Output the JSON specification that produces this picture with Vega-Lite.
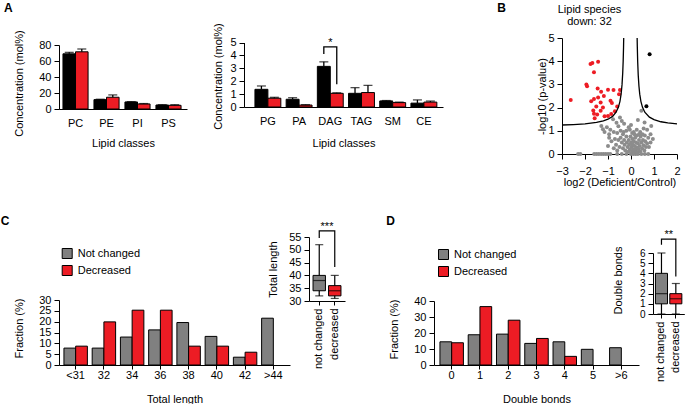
{
  "$schema": "https://vega.github.io/schema/vega-lite/v6.json",
  "padding": {"left": 0, "top": 1, "right": 0, "bottom": 0},
  "bounds": "flush",
  "spacing": 199,
  "resolve": {"scale": {"x": "independent", "y": "independent", "color": "independent", "xOffset": "independent"}, "legend": {"color": "independent"}},
  "config": {
    "font": "Liberation Sans",
    "view": {"stroke": null},
    "axis": {"domainColor": "#000000", "tickColor": "#000000", "labelColor": "#000000", "titleColor": "#000000", "labelFontSize": 11, "titleFontSize": 11, "titleFontWeight": "normal", "grid": false, "tickSize": 5, "labelPadding": 3, "labelOverlap": false, "labelFlush": false, "domainWidth": 1, "tickWidth": 1},
    "title": {"fontSize": 12, "fontWeight": "bold", "anchor": "start", "color": "#000000", "frame": "group"},
    "legend": {"labelFontSize": 11, "labelColor": "#000000"}
  },
  "datasets": {
    "a1": [
      {"cls": "PC", "grp": "Control", "val": 69, "err": 70.8},
      {"cls": "PC", "grp": "Deficient", "val": 71.5, "err": 75},
      {"cls": "PE", "grp": "Control", "val": 11.7, "err": 12.2},
      {"cls": "PE", "grp": "Deficient", "val": 14.7, "err": 17.6},
      {"cls": "PI", "grp": "Control", "val": 8.8, "err": 9.2},
      {"cls": "PI", "grp": "Deficient", "val": 6.3, "err": 6.8},
      {"cls": "PS", "grp": "Control", "val": 5, "err": 5.4},
      {"cls": "PS", "grp": "Deficient", "val": 4.6, "err": 5.4}
    ],
    "a2": [
      {"cls": "PG", "grp": "Control", "val": 1.37, "err": 1.63},
      {"cls": "PG", "grp": "Deficient", "val": 0.68, "err": 0.75},
      {"cls": "PA", "grp": "Control", "val": 0.6, "err": 0.72},
      {"cls": "PA", "grp": "Deficient", "val": 0.15, "err": 0.18},
      {"cls": "DAG", "grp": "Control", "val": 3.15, "err": 3.5},
      {"cls": "DAG", "grp": "Deficient", "val": 1.06, "err": 1.1},
      {"cls": "TAG", "grp": "Control", "val": 1.06, "err": 1.5},
      {"cls": "TAG", "grp": "Deficient", "val": 1.12, "err": 1.68},
      {"cls": "SM", "grp": "Control", "val": 0.47, "err": 0.5},
      {"cls": "SM", "grp": "Deficient", "val": 0.34, "err": 0.38},
      {"cls": "CE", "grp": "Control", "val": 0.3, "err": 0.55},
      {"cls": "CE", "grp": "Deficient", "val": 0.38, "err": 0.46}
    ],
    "a2br": [
      {"cls": "DAG", "grp": "Control", "y": 4.1, "o": 1},
      {"cls": "DAG", "grp": "Control", "y": 4.66, "o": 2},
      {"cls": "DAG", "grp": "Deficient", "y": 4.66, "o": 3},
      {"cls": "DAG", "grp": "Deficient", "y": 1.76, "o": 4}
    ],
    "a2star": [{"cls": "DAG", "y": 4.66, "t": "*"}],
    "curve": [
      {"side": "L", "x": -3, "y": 1.25}, {"side": "L", "x": -2.5, "y": 1.27}, {"side": "L", "x": -2, "y": 1.3},
      {"side": "L", "x": -1.5, "y": 1.36}, {"side": "L", "x": -1.2, "y": 1.43}, {"side": "L", "x": -1, "y": 1.5},
      {"side": "L", "x": -0.8, "y": 1.62}, {"side": "L", "x": -0.65, "y": 1.8}, {"side": "L", "x": -0.55, "y": 2.01},
      {"side": "L", "x": -0.48, "y": 2.27}, {"side": "L", "x": -0.43, "y": 2.58}, {"side": "L", "x": -0.39, "y": 2.99},
      {"side": "L", "x": -0.36, "y": 3.49}, {"side": "L", "x": -0.34, "y": 4.01}, {"side": "L", "x": -0.325, "y": 4.58},
      {"side": "L", "x": -0.317, "y": 5},
      {"side": "R", "x": 0.267, "y": 5}, {"side": "R", "x": 0.275, "y": 4.6}, {"side": "R", "x": 0.29, "y": 4.0},
      {"side": "R", "x": 0.315, "y": 3.39}, {"side": "R", "x": 0.345, "y": 2.93}, {"side": "R", "x": 0.38, "y": 2.58},
      {"side": "R", "x": 0.43, "y": 2.27}, {"side": "R", "x": 0.5, "y": 2.01}, {"side": "R", "x": 0.6, "y": 1.8},
      {"side": "R", "x": 0.8, "y": 1.59}, {"side": "R", "x": 1.0, "y": 1.48}, {"side": "R", "x": 1.3, "y": 1.39},
      {"side": "R", "x": 1.6, "y": 1.34}, {"side": "R", "x": 2.0, "y": 1.3}
    ],
    "volc": [
      {"x": -2.3, "y": 0, "c": "ns"}, {"x": -2.2, "y": 0, "c": "ns"}, {"x": -1.6, "y": 0, "c": "ns"}, {"x": -1.5, "y": 0, "c": "ns"},
      {"x": -1.4, "y": 0, "c": "ns"}, {"x": -1.3, "y": 0, "c": "ns"}, {"x": -1.2, "y": 0, "c": "ns"}, {"x": -1.1, "y": 0, "c": "ns"},
      {"x": -1.0, "y": 0, "c": "ns"}, {"x": -0.9, "y": 0, "c": "ns"}, {"x": -0.6, "y": 0, "c": "ns"}, {"x": -0.4, "y": 0, "c": "ns"},
      {"x": -0.2, "y": 0, "c": "ns"}, {"x": 0, "y": 0, "c": "ns"}, {"x": 0.1, "y": 0, "c": "ns"}, {"x": 0.2, "y": 0, "c": "ns"},
      {"x": 0.3, "y": 0, "c": "ns"}, {"x": 0.45, "y": 0, "c": "ns"}, {"x": 0.6, "y": 0, "c": "ns"}, {"x": 0.75, "y": 0, "c": "ns"},
      {"x": -0.78, "y": 1.5, "c": "ns"}, {"x": -0.48, "y": 1.57, "c": "ns"}, {"x": -0.63, "y": 1.35, "c": "ns"}, {"x": -0.4, "y": 1.42, "c": "ns"},
      {"x": -0.3, "y": 1.3, "c": "ns"}, {"x": -0.55, "y": 1.2, "c": "ns"}, {"x": -1.29, "y": 1.21, "c": "ns"}, {"x": -1.22, "y": 1.07, "c": "ns"},
      {"x": -1.05, "y": 1.15, "c": "ns"}, {"x": -0.9, "y": 1.05, "c": "ns"}, {"x": -1.15, "y": 0.95, "c": "ns"}, {"x": -0.95, "y": 0.85, "c": "ns"},
      {"x": -0.75, "y": 0.95, "c": "ns"}, {"x": -0.6, "y": 0.9, "c": "ns"}, {"x": -0.45, "y": 1.0, "c": "ns"}, {"x": -0.35, "y": 0.85, "c": "ns"},
      {"x": -0.2, "y": 1.0, "c": "ns"}, {"x": -0.1, "y": 1.15, "c": "ns"}, {"x": 0.0, "y": 1.25, "c": "ns"}, {"x": 0.12, "y": 0.95, "c": "ns"},
      {"x": 0.25, "y": 1.05, "c": "ns"}, {"x": 0.45, "y": 1.86, "c": "ns"}, {"x": 0.3, "y": 1.47, "c": "ns"}, {"x": 0.59, "y": 1.36, "c": "ns"},
      {"x": 0.88, "y": 1.21, "c": "ns"}, {"x": 0.7, "y": 1.05, "c": "ns"}, {"x": 0.55, "y": 1.1, "c": "ns"}, {"x": 0.4, "y": 0.95, "c": "ns"},
      {"x": 0.85, "y": 0.85, "c": "ns"}, {"x": 0.95, "y": 0.65, "c": "ns"}, {"x": 0.75, "y": 0.7, "c": "ns"}, {"x": 0.6, "y": 0.8, "c": "ns"},
      {"x": -0.85, "y": 0.55, "c": "ns"}, {"x": -0.7, "y": 0.65, "c": "ns"}, {"x": -0.65, "y": 0.4, "c": "ns"}, {"x": -0.55, "y": 0.6, "c": "ns"},
      {"x": -0.5, "y": 0.3, "c": "ns"}, {"x": -0.45, "y": 0.7, "c": "ns"}, {"x": -0.4, "y": 0.5, "c": "ns"}, {"x": -0.35, "y": 0.25, "c": "ns"},
      {"x": -0.3, "y": 0.6, "c": "ns"}, {"x": -0.28, "y": 0.4, "c": "ns"}, {"x": -0.25, "y": 0.15, "c": "ns"}, {"x": -0.2, "y": 0.75, "c": "ns"},
      {"x": -0.18, "y": 0.5, "c": "ns"}, {"x": -0.15, "y": 0.3, "c": "ns"}, {"x": -0.12, "y": 0.1, "c": "ns"}, {"x": -0.1, "y": 0.6, "c": "ns"},
      {"x": -0.08, "y": 0.4, "c": "ns"}, {"x": -0.05, "y": 0.2, "c": "ns"}, {"x": -0.02, "y": 0.75, "c": "ns"}, {"x": 0.0, "y": 0.5, "c": "ns"},
      {"x": 0.02, "y": 0.3, "c": "ns"}, {"x": 0.04, "y": 0.1, "c": "ns"}, {"x": 0.06, "y": 0.65, "c": "ns"}, {"x": 0.08, "y": 0.4, "c": "ns"},
      {"x": 0.1, "y": 0.2, "c": "ns"}, {"x": 0.12, "y": 0.55, "c": "ns"}, {"x": 0.14, "y": 0.05, "c": "ns"}, {"x": 0.16, "y": 0.35, "c": "ns"},
      {"x": 0.18, "y": 0.7, "c": "ns"}, {"x": 0.2, "y": 0.15, "c": "ns"}, {"x": 0.22, "y": 0.5, "c": "ns"}, {"x": 0.24, "y": 0.28, "c": "ns"},
      {"x": 0.26, "y": 0.8, "c": "ns"}, {"x": 0.28, "y": 0.08, "c": "ns"}, {"x": 0.3, "y": 0.45, "c": "ns"}, {"x": 0.32, "y": 0.22, "c": "ns"},
      {"x": 0.35, "y": 0.6, "c": "ns"}, {"x": 0.38, "y": 0.35, "c": "ns"}, {"x": 0.4, "y": 0.12, "c": "ns"}, {"x": 0.42, "y": 0.75, "c": "ns"},
      {"x": 0.45, "y": 0.5, "c": "ns"}, {"x": 0.48, "y": 0.25, "c": "ns"}, {"x": 0.52, "y": 0.6, "c": "ns"}, {"x": 0.55, "y": 0.38, "c": "ns"},
      {"x": 0.58, "y": 0.15, "c": "ns"}, {"x": 0.62, "y": 0.55, "c": "ns"}, {"x": 0.65, "y": 0.3, "c": "ns"}, {"x": 0.7, "y": 0.45, "c": "ns"},
      {"x": 0.78, "y": 0.3, "c": "ns"}, {"x": 0.85, "y": 0.5, "c": "ns"}, {"x": -0.6, "y": 0.15, "c": "ns"}, {"x": -0.75, "y": 0.25, "c": "ns"},
      {"x": -1.0, "y": 0.35, "c": "ns"}, {"x": -0.95, "y": 0.7, "c": "ns"}, {"x": -0.32, "y": 0.95, "c": "ns"}, {"x": 0.05, "y": 0.9, "c": "ns"},
      {"x": 0.15, "y": 0.85, "c": "ns"}, {"x": -0.05, "y": 1.05, "c": "ns"}, {"x": 0.35, "y": 0.85, "c": "ns"}, {"x": 0.5, "y": 0.85, "c": "ns"},
      {"x": -2.62, "y": 2.33, "c": "down"}, {"x": -1.76, "y": 3.88, "c": "down"}, {"x": -1.68, "y": 3.92, "c": "down"}, {"x": -1.43, "y": 3.98, "c": "down"},
      {"x": -1.61, "y": 3.52, "c": "down"}, {"x": -1.94, "y": 3.0, "c": "down"}, {"x": -1.91, "y": 2.92, "c": "down"}, {"x": -1.45, "y": 2.82, "c": "down"},
      {"x": -1.3, "y": 2.68, "c": "down"}, {"x": -1.0, "y": 2.77, "c": "down"}, {"x": -0.76, "y": 2.76, "c": "down"}, {"x": -0.48, "y": 2.76, "c": "down"},
      {"x": -1.61, "y": 2.37, "c": "down"}, {"x": -1.43, "y": 2.43, "c": "down"}, {"x": -1.18, "y": 2.5, "c": "down"}, {"x": -1.73, "y": 2.27, "c": "down"},
      {"x": -1.32, "y": 2.22, "c": "down"}, {"x": -0.89, "y": 2.29, "c": "down"}, {"x": -0.83, "y": 2.2, "c": "down"}, {"x": -0.52, "y": 2.58, "c": "down"},
      {"x": -1.51, "y": 2.05, "c": "down"}, {"x": -1.22, "y": 2.0, "c": "down"}, {"x": -1.64, "y": 1.88, "c": "down"}, {"x": -1.32, "y": 1.86, "c": "down"},
      {"x": -1.61, "y": 1.74, "c": "down"}, {"x": -1.47, "y": 1.7, "c": "down"}, {"x": -1.15, "y": 1.63, "c": "down"}, {"x": -1.0, "y": 1.64, "c": "down"},
      {"x": -0.86, "y": 1.72, "c": "down"}, {"x": -0.7, "y": 1.84, "c": "down"}, {"x": -1.58, "y": 1.54, "c": "down"}, {"x": -0.6, "y": 2.05, "c": "down"},
      {"x": 0.81, "y": 4.3, "c": "up"}, {"x": 0.67, "y": 2.06, "c": "up"}
    ],
    "cbar": [
      {"k": "<31", "grp": "Not changed", "v": 7.8}, {"k": "<31", "grp": "Decreased", "v": 8.7},
      {"k": "32", "grp": "Not changed", "v": 7.8}, {"k": "32", "grp": "Decreased", "v": 19.9},
      {"k": "34", "grp": "Not changed", "v": 12.9}, {"k": "34", "grp": "Decreased", "v": 25.3},
      {"k": "36", "grp": "Not changed", "v": 16.2}, {"k": "36", "grp": "Decreased", "v": 25.3},
      {"k": "38", "grp": "Not changed", "v": 19.6}, {"k": "38", "grp": "Decreased", "v": 8.7},
      {"k": "40", "grp": "Not changed", "v": 13.2}, {"k": "40", "grp": "Decreased", "v": 8.7},
      {"k": "42", "grp": "Not changed", "v": 3.6}, {"k": "42", "grp": "Decreased", "v": 5.9},
      {"k": ">44", "grp": "Not changed", "v": 21.6}
    ],
    "dbar": [
      {"k": "0", "grp": "Not changed", "v": 14.5}, {"k": "0", "grp": "Decreased", "v": 13.9},
      {"k": "1", "grp": "Not changed", "v": 18.9}, {"k": "1", "grp": "Decreased", "v": 36.5},
      {"k": "2", "grp": "Not changed", "v": 19.3}, {"k": "2", "grp": "Decreased", "v": 28},
      {"k": "3", "grp": "Not changed", "v": 13.5}, {"k": "3", "grp": "Decreased", "v": 16.6},
      {"k": "4", "grp": "Not changed", "v": 14.5}, {"k": "4", "grp": "Decreased", "v": 5.4},
      {"k": "5", "grp": "Not changed", "v": 9.8},
      {"k": ">6", "grp": "Not changed", "v": 10.8}
    ],
    "cbox": [
      {"g": "not changed", "min": 32, "q1": 34, "med": 38, "q3": 40, "max": 52},
      {"g": "decreased", "min": 31, "q1": 32, "med": 34, "q3": 36, "max": 40}
    ],
    "dbox": [
      {"g": "not changed", "min": 0, "q1": 1, "med": 2, "q3": 4, "max": 6},
      {"g": "decreased", "min": 0, "q1": 1, "med": 1.5, "q3": 2, "max": 3}
    ],
    "cbr": [
      {"g": "not changed", "y": 54.6, "o": 1}, {"g": "not changed", "y": 57.4, "o": 2},
      {"g": "decreased", "y": 57.4, "o": 3}, {"g": "decreased", "y": 43.3, "o": 4}
    ],
    "dbr": [
      {"g": "not changed", "y": 6.8, "o": 1}, {"g": "not changed", "y": 7.37, "o": 2},
      {"g": "decreased", "y": 7.37, "o": 3}, {"g": "decreased", "y": 3.7, "o": 4}
    ],
    "cstar": [{"g": "not changed", "y": 57.4, "t": "***"}],
    "dstar": [{"g": "not changed", "y": 7.37, "t": "**"}]
  },
  "vconcat": [
    {
      "hconcat": [
        {
          "width": 184.7, "height": 71,
          "title": {"text": "A", "dx": -55, "offset": 15},
          "data": {"name": "a1"},
          "encoding": {
            "x": {"field": "cls", "type": "nominal", "sort": ["PC", "PE", "PI", "PS"], "scale": {"range": [0, 128], "paddingInner": 0.19, "paddingOuter": 0.16, "align": 0.4}, "axis": {"title": "Lipid classes", "labelAngle": 0, "ticks": false, "tickSize": 0, "labelPadding": 8, "titleY": 34, "titleBaseline": "middle"}},
            "xOffset": {"field": "grp", "type": "nominal", "sort": ["Control", "Deficient"], "scale": {"paddingInner": 0, "paddingOuter": 0}}
          },
          "layer": [
            {"mark": {"type": "bar", "stroke": "#000000", "strokeWidth": 1},
             "encoding": {
               "y": {"field": "val", "type": "quantitative", "scale": {"domain": [0, 80], "range": [71, 7], "nice": false}, "axis": {"values": [0, 20, 40, 60, 80], "labelOverlap": false, "title": "Concentration (mol%)", "titleX": -40, "titleY": 45, "titleBaseline": "middle"}},
               "color": {"field": "grp", "type": "nominal", "scale": {"domain": ["Control", "Deficient"], "range": ["#000000", "#ED1C24"]}, "legend": null}}},
            {"mark": {"type": "rule", "color": "#000000", "strokeWidth": 1.3},
             "encoding": {"y": {"field": "val", "type": "quantitative", "scale": {"domain": [0, 80], "range": [71, 7], "nice": false}, "axis": {"values": [0, 20, 40, 60, 80], "labelOverlap": false, "title": "Concentration (mol%)", "titleX": -40, "titleY": 45, "titleBaseline": "middle"}}, "y2": {"field": "err"}}},
            {"mark": {"type": "tick", "color": "#000000", "thickness": 1.3, "size": 9, "orient": "horizontal"},
             "encoding": {"y": {"field": "err", "type": "quantitative", "scale": {"domain": [0, 80], "range": [71, 7], "nice": false}, "axis": {"values": [0, 20, 40, 60, 80], "labelOverlap": false, "title": "Concentration (mol%)", "titleX": -40, "titleY": 45, "titleBaseline": "middle"}}}}
          ]
        },
        {
          "width": 318, "height": 69,
          "title": {"text": "B", "anchor": "end", "dx": -56, "offset": 8},
          "encoding": {
            "x": {"field": "cls", "type": "nominal", "sort": ["PG", "PA", "DAG", "TAG", "SM", "CE"], "scale": {"range": [0, 199], "paddingInner": 0.17, "paddingOuter": 0.274, "align": 0.64}, "axis": {"title": "Lipid classes", "labelAngle": 0, "ticks": false, "tickSize": 0, "labelPadding": 8, "titleY": 36, "titleBaseline": "middle"}}
          },
          "layer": [
            {"data": {"name": "a2"}, "mark": {"type": "bar", "stroke": "#000000", "strokeWidth": 1},
             "encoding": {
               "xOffset": {"field": "grp", "type": "nominal", "sort": ["Control", "Deficient"], "scale": {"paddingInner": 0, "paddingOuter": 0}},
               "y": {"field": "val", "type": "quantitative", "scale": {"domain": [0, 5], "range": [69, 4.5], "nice": false}, "axis": {"values": [0, 1, 2, 3, 4, 5], "labelOverlap": false, "title": "Concentration (mol%)", "titleX": -26, "titleY": 38, "titleBaseline": "middle"}},
               "color": {"field": "grp", "type": "nominal", "scale": {"domain": ["Control", "Deficient"], "range": ["#000000", "#ED1C24"]}, "legend": null}}},
            {"data": {"name": "a2"}, "mark": {"type": "rule", "color": "#000000", "strokeWidth": 1.3},
             "encoding": {"xOffset": {"field": "grp", "type": "nominal", "sort": ["Control", "Deficient"]}, "y": {"field": "val", "type": "quantitative", "scale": {"domain": [0, 5], "range": [69, 4.5], "nice": false}, "axis": {"values": [0, 1, 2, 3, 4, 5], "labelOverlap": false, "title": "Concentration (mol%)", "titleX": -26, "titleY": 38, "titleBaseline": "middle"}}, "y2": {"field": "err"}}},
            {"data": {"name": "a2"}, "mark": {"type": "tick", "color": "#000000", "thickness": 1.3, "size": 9, "orient": "horizontal"},
             "encoding": {"xOffset": {"field": "grp", "type": "nominal", "sort": ["Control", "Deficient"]}, "y": {"field": "err", "type": "quantitative", "scale": {"domain": [0, 5], "range": [69, 4.5], "nice": false}, "axis": {"values": [0, 1, 2, 3, 4, 5], "labelOverlap": false, "title": "Concentration (mol%)", "titleX": -26, "titleY": 38, "titleBaseline": "middle"}}}},
            {"data": {"name": "a2br"}, "mark": {"type": "line", "color": "#000000", "strokeWidth": 1.3},
             "encoding": {"xOffset": {"field": "grp", "type": "nominal", "sort": ["Control", "Deficient"]}, "y": {"field": "y", "type": "quantitative", "scale": {"domain": [0, 5], "range": [69, 4.5], "nice": false}, "axis": {"values": [0, 1, 2, 3, 4, 5], "labelOverlap": false, "title": "Concentration (mol%)", "titleX": -26, "titleY": 38, "titleBaseline": "middle"}}, "order": {"field": "o"}}},
            {"data": {"name": "a2star"}, "mark": {"type": "text", "baseline": "alphabetic", "dy": -1, "fontSize": 11, "color": "#000000"},
             "encoding": {"y": {"field": "y", "type": "quantitative", "scale": {"domain": [0, 5], "range": [69, 4.5], "nice": false}, "axis": {"values": [0, 1, 2, 3, 4, 5], "labelOverlap": false, "title": "Concentration (mol%)", "titleX": -26, "titleY": 38, "titleBaseline": "middle"}}, "text": {"field": "t"}}}
          ]
        },
        {
          "width": 115, "height": 116,
          "title": {"text": ["Lipid species", "down: 32"], "anchor": "middle", "fontWeight": "normal", "fontSize": 11, "dx": -30, "offset": 5, "lineHeight": 12},
          "encoding": {
            "x": {"field": "x", "type": "quantitative", "scale": {"domain": [-3, 2], "nice": false}, "axis": {"values": [-3, -2, -1, 0, 1, 2], "labelOverlap": false, "title": "log2 (Deficient/Control)", "labelPadding": 6, "titleY": 28, "titleBaseline": "middle"}},
            "y": {"field": "y", "type": "quantitative", "scale": {"domain": [0, 5], "nice": false}, "axis": {"values": [0, 1, 2, 3, 4, 5], "labelOverlap": false, "title": "-log10 (p-value)", "titleX": -20, "titleBaseline": "middle"}}
          },
          "layer": [
            {"data": {"name": "volc"}, "mark": {"type": "circle", "size": 16, "opacity": 1},
             "encoding": {"color": {"field": "c", "type": "nominal", "scale": {"domain": ["ns", "down", "up"], "range": ["#8C8C8C", "#ED1C24", "#000000"]}, "legend": null}}},
            {"data": {"name": "curve"}, "mark": {"type": "line", "color": "#000000", "strokeWidth": 1.3},
             "encoding": {"detail": {"field": "side"}}}
          ]
        }
      ],
      "spacing": 0,
      "bounds": "flush",
      "resolve": {"scale": {"x": "independent", "y": "independent", "color": "independent", "xOffset": "independent"}, "legend": {"color": "independent"}}
    },
    {
      "hconcat": [
        {
          "width": 250, "height": 128,
          "title": {"text": "C", "dx": -58.3, "offset": 9},
          "data": {"name": "cbar"},
          "mark": {"type": "bar", "stroke": "#000000", "strokeWidth": 1},
          "encoding": {
            "x": {"field": "k", "type": "nominal", "sort": ["<31", "32", "34", "36", "38", "40", "42", ">44"], "scale": {"range": [0, 231], "paddingInner": 0.17, "paddingOuter": 0.175, "align": 0.5}, "axis": {"title": "Total length", "labelAngle": 0, "tickSize": 4, "labelPadding": 0.5, "titleY": 34, "titleBaseline": "middle"}},
            "xOffset": {"field": "grp", "type": "nominal", "sort": ["Not changed", "Decreased"], "scale": {"paddingInner": 0, "paddingOuter": 0}},
            "y": {"field": "v", "type": "quantitative", "scale": {"domain": [0, 30], "range": [128, 63], "nice": false}, "axis": {"values": [0, 5, 10, 15, 20, 25, 30], "title": "Fraction (%)", "titleX": -40, "titleY": 91, "titleBaseline": "middle"}},
            "color": {"field": "grp", "type": "nominal", "scale": {"domain": ["Not changed", "Decreased"], "range": ["#808080", "#ED1C24"]}, "legend": {"title": null, "orient": "none", "legendX": 2.7, "legendY": 11, "symbolType": "square", "symbolSize": 100, "symbolStrokeColor": "#000000", "symbolStrokeWidth": 1, "symbolOpacity": 1, "labelFontSize": 11, "labelOffset": 5, "rowPadding": 2, "padding": 0}}
          }
        },
        {
          "width": 124.4, "height": 64,
          "encoding": {
            "x": {"field": "g", "type": "nominal", "sort": ["not changed", "decreased"], "scale": {"range": [0, 36], "paddingInner": 0.2, "paddingOuter": 0.26, "align": 0.5}, "axis": {"title": null, "labelAngle": -90, "tickSize": 4, "labelPadding": 3}},
            "y": {"field": "min", "type": "quantitative", "scale": {"domain": [30, 55], "nice": false}, "axis": {"values": [30, 35, 40, 45, 50, 55], "labelOverlap": false, "title": "Total length", "titleX": -36, "titleBaseline": "middle"}}
          },
          "layer": [
            {"data": {"name": "cbox"}, "mark": {"type": "rule", "color": "#000000", "strokeWidth": 1.2},
             "encoding": {"y2": {"field": "max"}}},
            {"data": {"name": "cbox"}, "mark": {"type": "tick", "color": "#000000", "thickness": 1.2, "size": 8, "orient": "horizontal"}},
            {"data": {"name": "cbox"}, "mark": {"type": "tick", "color": "#000000", "thickness": 1.2, "size": 8, "orient": "horizontal"},
             "encoding": {"y": {"field": "max", "type": "quantitative", "scale": {"domain": [30, 55], "nice": false}, "axis": {"values": [30, 35, 40, 45, 50, 55], "labelOverlap": false, "title": "Total length", "titleX": -36, "titleBaseline": "middle"}}}},
            {"data": {"name": "cbox"}, "mark": {"type": "bar", "stroke": "#000000", "strokeWidth": 1},
             "encoding": {"y": {"field": "q1", "type": "quantitative", "scale": {"domain": [30, 55], "nice": false}, "axis": {"values": [30, 35, 40, 45, 50, 55], "labelOverlap": false, "title": "Total length", "titleX": -36, "titleBaseline": "middle"}}, "y2": {"field": "q3"}, "color": {"field": "g", "type": "nominal", "scale": {"domain": ["not changed", "decreased"], "range": ["#808080", "#ED1C24"]}, "legend": null}}},
            {"data": {"name": "cbox"}, "mark": {"type": "tick", "color": "#000000", "thickness": 1.2, "size": 12, "orient": "horizontal"},
             "encoding": {"y": {"field": "med", "type": "quantitative", "scale": {"domain": [30, 55], "nice": false}, "axis": {"values": [30, 35, 40, 45, 50, 55], "labelOverlap": false, "title": "Total length", "titleX": -36, "titleBaseline": "middle"}}}},
            {"data": {"name": "cbr"}, "mark": {"type": "line", "color": "#000000", "strokeWidth": 1.2},
             "encoding": {"y": {"field": "y", "type": "quantitative", "scale": {"domain": [30, 55], "nice": false}, "axis": {"values": [30, 35, 40, 45, 50, 55], "labelOverlap": false, "title": "Total length", "titleX": -36, "titleBaseline": "middle"}}, "order": {"field": "o"}}},
            {"data": {"name": "cstar"}, "mark": {"type": "text", "baseline": "alphabetic", "dx": 7.75, "dy": -1, "fontSize": 11, "color": "#000000"},
             "encoding": {"y": {"field": "y", "type": "quantitative", "scale": {"domain": [30, 55], "nice": false}, "axis": {"values": [30, 35, 40, 45, 50, 55], "labelOverlap": false, "title": "Total length", "titleX": -36, "titleBaseline": "middle"}}, "text": {"field": "t"}}}
          ]
        },
        {
          "width": 219, "height": 128,
          "title": {"text": "D", "dx": -47.7, "offset": 9},
          "data": {"name": "dbar"},
          "mark": {"type": "bar", "stroke": "#000000", "strokeWidth": 1},
          "encoding": {
            "x": {"field": "k", "type": "nominal", "sort": ["0", "1", "2", "3", "4", "5", ">6"], "scale": {"range": [0, 205], "paddingInner": 0.17, "paddingOuter": 0.21, "align": 0.5}, "axis": {"title": "Double bonds", "labelAngle": 0, "tickSize": 4, "labelPadding": 0.5, "titleY": 34, "titleBaseline": "middle"}},
            "xOffset": {"field": "grp", "type": "nominal", "sort": ["Not changed", "Decreased"], "scale": {"paddingInner": 0, "paddingOuter": 0}},
            "y": {"field": "v", "type": "quantitative", "scale": {"domain": [0, 40], "range": [128, 64], "nice": false}, "axis": {"values": [0, 10, 20, 30, 40], "title": "Fraction (%)", "titleX": -40, "titleY": 92, "titleBaseline": "middle"}},
            "color": {"field": "grp", "type": "nominal", "scale": {"domain": ["Not changed", "Decreased"], "range": ["#808080", "#ED1C24"]}, "legend": {"title": null, "orient": "none", "legendX": 4, "legendY": 12, "symbolType": "square", "symbolSize": 100, "symbolStrokeColor": "#000000", "symbolStrokeWidth": 1, "symbolOpacity": 1, "labelFontSize": 11, "labelOffset": 5, "rowPadding": 2, "padding": 0}}
          }
        },
        {
          "width": 31.3, "height": 77,
          "encoding": {
            "x": {"field": "g", "type": "nominal", "sort": ["not changed", "decreased"], "scale": {"range": [0, 31.3], "paddingInner": 0.16, "paddingOuter": 0.17, "align": 0.5}, "axis": {"title": null, "labelAngle": -90, "tickSize": 4, "labelPadding": 3}},
            "y": {"field": "min", "type": "quantitative", "scale": {"domain": [0, 6], "range": [77, 16], "nice": false}, "axis": {"values": [0, 1, 2, 3, 4, 5, 6], "labelOverlap": false, "labelFontSize": 10, "title": "Double bonds", "titleX": -35, "titleY": 43, "titleBaseline": "middle"}}
          },
          "layer": [
            {"data": {"name": "dbox"}, "mark": {"type": "rule", "color": "#000000", "strokeWidth": 1.2},
             "encoding": {"y2": {"field": "max"}}},
            {"data": {"name": "dbox"}, "mark": {"type": "tick", "color": "#000000", "thickness": 1.2, "size": 8, "orient": "horizontal"}},
            {"data": {"name": "dbox"}, "mark": {"type": "tick", "color": "#000000", "thickness": 1.2, "size": 8, "orient": "horizontal"},
             "encoding": {"y": {"field": "max", "type": "quantitative", "scale": {"domain": [0, 6], "range": [77, 16], "nice": false}, "axis": {"values": [0, 1, 2, 3, 4, 5, 6], "labelOverlap": false, "labelFontSize": 10, "title": "Double bonds", "titleX": -35, "titleY": 43, "titleBaseline": "middle"}}}},
            {"data": {"name": "dbox"}, "mark": {"type": "bar", "stroke": "#000000", "strokeWidth": 1},
             "encoding": {"y": {"field": "q1", "type": "quantitative", "scale": {"domain": [0, 6], "range": [77, 16], "nice": false}, "axis": {"values": [0, 1, 2, 3, 4, 5, 6], "labelOverlap": false, "labelFontSize": 10, "title": "Double bonds", "titleX": -35, "titleY": 43, "titleBaseline": "middle"}}, "y2": {"field": "q3"}, "color": {"field": "g", "type": "nominal", "scale": {"domain": ["not changed", "decreased"], "range": ["#808080", "#ED1C24"]}, "legend": null}}},
            {"data": {"name": "dbox"}, "mark": {"type": "tick", "color": "#000000", "thickness": 1.2, "size": 12, "orient": "horizontal"},
             "encoding": {"y": {"field": "med", "type": "quantitative", "scale": {"domain": [0, 6], "range": [77, 16], "nice": false}, "axis": {"values": [0, 1, 2, 3, 4, 5, 6], "labelOverlap": false, "labelFontSize": 10, "title": "Double bonds", "titleX": -35, "titleY": 43, "titleBaseline": "middle"}}}},
            {"data": {"name": "dbr"}, "mark": {"type": "line", "color": "#000000", "strokeWidth": 1.2},
             "encoding": {"y": {"field": "y", "type": "quantitative", "scale": {"domain": [0, 6], "range": [77, 16], "nice": false}, "axis": {"values": [0, 1, 2, 3, 4, 5, 6], "labelOverlap": false, "labelFontSize": 10, "title": "Double bonds", "titleX": -35, "titleY": 43, "titleBaseline": "middle"}}, "order": {"field": "o"}}},
            {"data": {"name": "dstar"}, "mark": {"type": "text", "baseline": "alphabetic", "dx": 7.2, "dy": -1, "fontSize": 11, "color": "#000000"},
             "encoding": {"y": {"field": "y", "type": "quantitative", "scale": {"domain": [0, 6], "range": [77, 16], "nice": false}, "axis": {"values": [0, 1, 2, 3, 4, 5, 6], "labelOverlap": false, "labelFontSize": 10, "title": "Double bonds", "titleX": -35, "titleY": 43, "titleBaseline": "middle"}}, "text": {"field": "t"}}}
          ]
        }
      ],
      "spacing": 0,
      "bounds": "flush",
      "resolve": {"scale": {"x": "independent", "y": "independent", "color": "independent", "xOffset": "independent"}, "legend": {"color": "independent"}}
    }
  ]
}
